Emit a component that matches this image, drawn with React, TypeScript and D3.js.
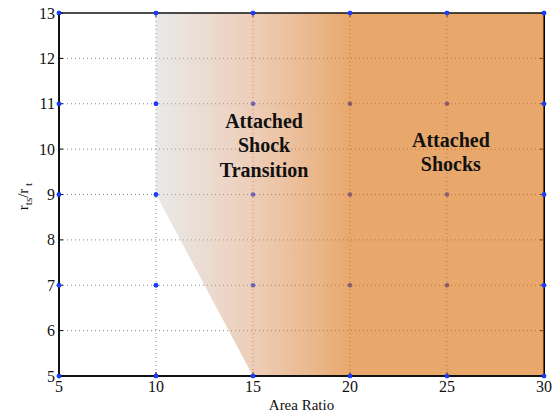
import React from "react";
import * as d3 from "d3";

const xTicks = [5, 10, 15, 20, 25, 30];
const yTicks = [5, 6, 7, 8, 9, 10, 11, 12, 13];
const dotXs = [5, 10, 15, 20, 25, 30];
const dotYs = [5, 7, 9, 11, 13];
// boundary of the shaded region (area ratio, r_ts/r_t)
const regionX = [10, 10, 15, 30, 30];
const regionY = [13, 9, 5, 5, 13];
const gradientStart = 10;
const gradientEnd = 20;
const labels = [
  { text: ["Attached", "Shock", "Transition"], x: 15.57, y: 10.47 },
  { text: ["Attached", "Shocks"], x: 25.2, y: 10.05 },
];

const W = 555, H = 416;
const m = { left: 59, right: 544, top: 13, bottom: 376 };

export default function App() {
  const x = d3.scaleLinear().domain([5, 30]).range([m.left, m.right]);
  const y = d3.scaleLinear().domain([5, 13]).range([m.bottom, m.top]);
  const line = d3.line<[number, number]>().x((d) => x(d[0])).y((d) => y(d[1]));
  const regionPts: [number, number][] = regionX.map((v, i) => [v, regionY[i]]);
  const regionPath = line(regionPts) + "Z";
  const dots: [number, number][] = [];
  dotXs.forEach((a) => dotYs.forEach((b) => dots.push([a, b])));
  const edgeDots = dots.filter((d) => d[0] <= 10 || d[1] === 5 || d[1] === 13 || d[0] === 30);
  const tl = 4;
  return (
    <svg width={W} height={H} fontFamily="serif" style={{ position: "absolute", left: 0, top: 0, background: "#fff" }}>
      <defs>
        <linearGradient id="grad" gradientUnits="userSpaceOnUse" x1={x(gradientStart)} y1={0} x2={x(gradientEnd)} y2={0}>
          <stop offset="0" stopColor="#c8c8c8" stopOpacity={0.4} />
          <stop offset="0.5" stopColor="#d89060" stopOpacity={0.45} />
          <stop offset="1" stopColor="#d96e0a" stopOpacity={0.6} />
        </linearGradient>
      </defs>
      <rect x={m.left} y={m.top} width={m.right - m.left} height={m.bottom - m.top} fill="#fff" />
      {/* grid */}
      <g stroke="#888" strokeWidth={1} strokeDasharray="1,3">
        {xTicks.slice(1, -1).map((t) => (
          <line key={"gx" + t} x1={x(t)} x2={x(t)} y1={m.top} y2={m.bottom} />
        ))}
        {yTicks.slice(1, -1).map((t) => (
          <line key={"gy" + t} x1={m.left} x2={m.right} y1={y(t)} y2={y(t)} />
        ))}
      </g>
      {/* ticks */}
      <g stroke="#000" strokeWidth={1}>
        {xTicks.map((t) => (
          <g key={"tx" + t}>
            <line x1={x(t)} x2={x(t)} y1={m.bottom} y2={m.bottom - tl} />
            <line x1={x(t)} x2={x(t)} y1={m.top} y2={m.top + tl} />
          </g>
        ))}
        {yTicks.map((t) => (
          <g key={"ty" + t}>
            <line x1={m.left} x2={m.left + tl} y1={y(t)} y2={y(t)} />
            <line x1={m.right} x2={m.right - tl} y1={y(t)} y2={y(t)} />
          </g>
        ))}
      </g>
      <line x1={m.right} x2={m.right} y1={m.top} y2={m.bottom} stroke="#000" strokeWidth={2} />
      {/* dots */}
      {dots.map((d, i) => (
        <circle key={"d" + i} cx={x(d[0])} cy={y(d[1])} r={2.3} fill="#1a3cff" />
      ))}
      {/* shaded region */}
      <path d={regionPath} fill="url(#grad)" />
      {/* spines */}
      <g stroke="#111" strokeWidth={2}>
        <line x1={m.left} x2={m.left} y1={m.top} y2={m.bottom} />
        <line x1={m.left} x2={m.right} y1={m.bottom} y2={m.bottom} />
        <line x1={m.left} x2={m.right} y1={m.top} y2={m.top} strokeWidth={1.5} />
      </g>
      {edgeDots.map((d, i) => (
        <circle key={"e" + i} cx={x(d[0])} cy={y(d[1])} r={2.3} fill="#1a3cff" />
      ))}
      {/* tick labels */}
      {xTicks.map((t) => (
        <text key={"lx" + t} x={x(t)} y={392} textAnchor="middle" fontSize={16} fill="#111">{t}</text>
      ))}
      {yTicks.map((t) => (
        <text key={"ly" + t} x={m.left - 4} y={y(t) + 5.5} textAnchor="end" fontSize={16} fill="#111">{t}</text>
      ))}
      <text x={(m.left + m.right) / 2} y={410} textAnchor="middle" fontSize={15} fill="#111">Area Ratio</text>
      <text transform={`translate(28,${(m.top + m.bottom) / 2 + 2}) rotate(-90)`} textAnchor="middle" fontSize={15} fill="#111">
        r<tspan fontSize={11} dy={4}>ts</tspan><tspan dy={-4}>/r</tspan><tspan fontSize={11} dy={4}> t</tspan>
      </text>
      {/* annotations */}
      {labels.map((l, i) => (
        <text key={"a" + i} fontWeight="bold" fontSize={20} fill="#111" textAnchor="middle">
          {l.text.map((s, j) => (
            <tspan key={j} x={x(l.x)} y={y(l.y) + j * 24.5}>{s}</tspan>
          ))}
        </text>
      ))}
    </svg>
  );
}
